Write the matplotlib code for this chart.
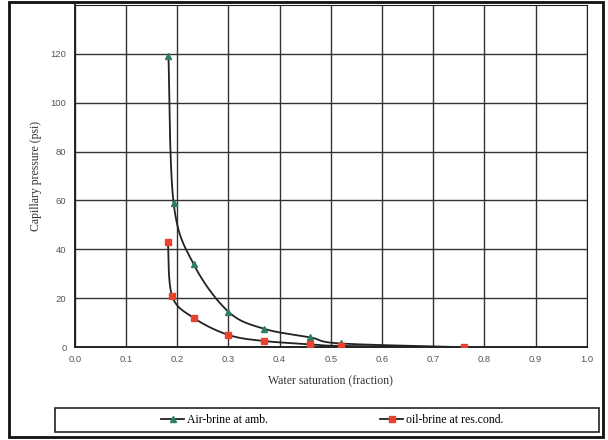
import numpy as np
import matplotlib.pyplot as plt
from matplotlib.patches import Rectangle

# ---------------- data ----------------
sw_air = [0.183, 0.193, 0.232, 0.30, 0.37, 0.46, 0.52, 0.76]
pc_air = [119.0, 59.0, 34.0, 14.5, 7.5, 4.0, 1.5, 0.0]

sw_oil = [0.182, 0.190, 0.232, 0.30, 0.37, 0.46, 0.52, 0.76]
pc_oil = [43.0, 21.0, 12.0, 5.0, 2.5, 1.2, 0.5, 0.0]

xticks = [0.0, 0.1, 0.2, 0.3, 0.4, 0.5, 0.6, 0.7, 0.8, 0.9, 1.0]
yticks = [0, 20, 40, 60, 80, 100, 120]


def smooth(x, y, n=30):
    # catmull-rom style smoothing, like a spreadsheet "smoothed line"
    x = np.asarray(x); y = np.asarray(y)
    px = np.concatenate([[x[0]], x, [x[-1]]])
    py = np.concatenate([[y[0]], y, [y[-1]]])
    xs, ys = [], []
    t = np.linspace(0, 1, n)
    for i in range(1, len(px) - 2):
        for p, out in ((px, xs), (py, ys)):
            p0, p1, p2, p3 = p[i - 1], p[i], p[i + 1], p[i + 2]
            out.extend(0.5 * (2 * p1 + (-p0 + p2) * t
                              + (2 * p0 - 5 * p1 + 4 * p2 - p3) * t ** 2
                              + (-p0 + 3 * p1 - 3 * p2 + p3) * t ** 3))
    return xs, ys


plt.rcParams['font.family'] = 'Liberation Serif'

fig = plt.figure(figsize=(6.08, 4.4), dpi=100)
ax = fig.add_axes([0.123, 0.211, 0.842, 0.778])

green = '#2f7f5c'
red = '#e8412f'

for sw, pc, mk, ms, col, lab in ((sw_air, pc_air, '^', 4.5, green, 'Air-brine at amb.'),
                                 (sw_oil, pc_oil, 's', 3.8, red, 'oil-brine at res.cond.')):
    xs, ys = smooth(sw, pc)
    ax.plot(xs, ys, color='#222222', lw=1.3, zorder=3)
    ax.plot(sw, pc, ls='none', marker=mk, ms=ms, color=col, zorder=4)
    ax.plot([], [], color='#222222', lw=1.3, marker=mk, ms=ms,
            mfc=col, mec=col, label=lab)

ax.set_xlim(0, 1.0)
ax.set_ylim(0, 140)
ax.set_xticks(xticks)
ax.set_xticklabels([f'{v:.1f}' for v in xticks])
ax.set_yticks(yticks)
ax.grid(True, color='#333333', lw=1.0)
ax.set_axisbelow(True)
for lab in ax.get_xticklabels() + ax.get_yticklabels():
    lab.set_family('Liberation Sans')
    lab.set_color('#555555')
ax.tick_params(labelsize=6.8, length=0, pad=6)
for s in ax.spines.values():
    s.set_color('#222222')
ax.spines['left'].set_linewidth(1.4)
ax.spines['bottom'].set_linewidth(1.4)
ax.set_xlabel('Water saturation (fraction)', fontsize=8.5, color='#333333', labelpad=8)
ax.set_ylabel('Capillary pressure (psi)', fontsize=8.5, color='#333333', labelpad=6)

leg = fig.legend(loc='center', bbox_to_anchor=(0.546, 0.0455), ncol=2,
                 fontsize=8.5, frameon=False, handlelength=2.0, handletextpad=0.2,
                 columnspacing=9.5)

# legend box and outer frame
fig.patches.append(Rectangle((0.09, 0.018), 0.895, 0.055, transform=fig.transFigure,
                             fill=False, ec='#222222', lw=1.2))
fig.patches.append(Rectangle((0.014, 0.007), 0.977, 0.988, transform=fig.transFigure,
                             fill=False, ec='#111111', lw=2))

plt.savefig('out.png', dpi=100)
